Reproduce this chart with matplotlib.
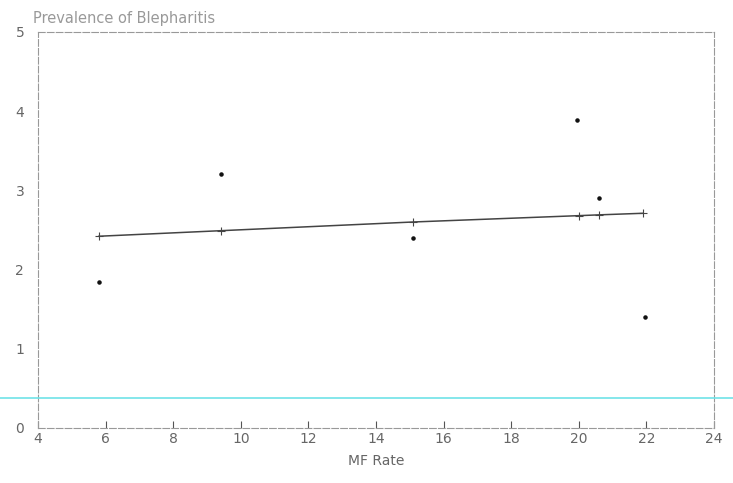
import numpy as np
import matplotlib.pyplot as plt
from matplotlib.lines import Line2D

# observed points
mf_rate = [5.8, 9.4, 15.1, 19.95, 20.6, 21.95]
prevalence = [1.84, 3.21, 2.40, 3.89, 2.90, 1.40]

# fitted line
fit_x = [5.8, 9.4, 15.1, 20.0, 20.6, 21.9]
fit_y = [2.42, 2.49, 2.60, 2.68, 2.69, 2.71]

xticks = [4, 6, 8, 10, 12, 14, 16, 18, 20, 22, 24]
yticks = [0, 1, 2, 3, 4, 5]

fig = plt.figure(figsize=(7.33, 4.83), dpi=100)
ax = fig.add_axes([0.052, 0.114, 0.922, 0.82])

ax.plot(fit_x, fit_y, color='#444444', linewidth=1.1, marker='+',
        markersize=6, markeredgewidth=0.8)
ax.scatter(mf_rate, prevalence, s=5, color='#111111', zorder=3)

ax.set_xlim(4, 24)
ax.set_ylim(0, 5)
ax.set_xticks(xticks)
ax.set_yticks(yticks)
ax.tick_params(axis='x', direction='in', length=5, color='#555555',
               labelcolor='#666666', labelsize=10, pad=3)
ax.tick_params(axis='y', length=0, labelcolor='#666666', labelsize=10, pad=10)

for s in ax.spines.values():
    s.set_color('#999999')
    s.set_linewidth(0.8)
    s.set_linestyle((0, (6, 2)))

ax.set_xlabel("MF Rate", color='#666666', fontsize=10, labelpad=6)
fig.text(0.045, 0.962, "Prevalence of Blepharitis", color='#999999',
         fontsize=10.5, ha='left', va='center')

# scan artefact line across the page
fig.add_artist(Line2D([0, 1], [1 - 398 / 483, 1 - 398 / 483],
                      color='#6fe3e8', linewidth=1.2))

plt.savefig("out.png", dpi=100)
